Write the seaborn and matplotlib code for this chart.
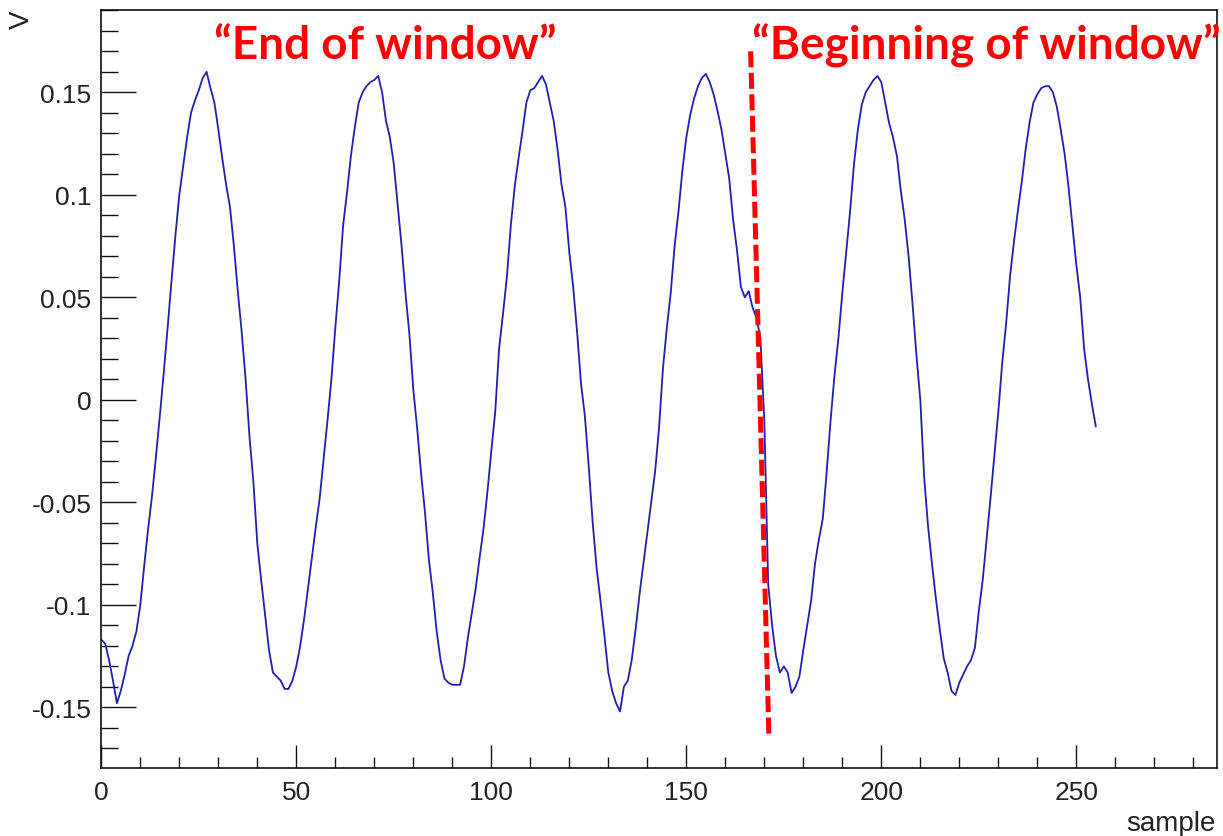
import numpy as np
import pandas as pd
import matplotlib
matplotlib.use("Agg")
import matplotlib.pyplot as plt
from matplotlib.ticker import MultipleLocator, FixedLocator, FixedFormatter
import seaborn as sns

# ---- data ----
voltage = [
    -0.117, -0.119, -0.127, -0.137, -0.148, -0.142, -0.134, -0.125, -0.120, -0.113,
    -0.100, -0.081, -0.063, -0.047, -0.028, -0.008, 0.013, 0.035, 0.058, 0.080,
    0.100, 0.114, 0.128, 0.140, 0.146, 0.151, 0.157, 0.160, 0.152, 0.145,
    0.132, 0.118, 0.105, 0.094, 0.075, 0.053, 0.033, 0.010, -0.018, -0.040,
    -0.070, -0.088, -0.105, -0.122, -0.133, -0.135, -0.137, -0.141, -0.141, -0.137,
    -0.130, -0.120, -0.107, -0.092, -0.077, -0.062, -0.048, -0.029, -0.010, 0.010,
    0.035, 0.058, 0.085, 0.101, 0.119, 0.133, 0.145, 0.150, 0.153, 0.155,
    0.156, 0.158, 0.150, 0.136, 0.128, 0.115, 0.095, 0.075, 0.052, 0.032,
    0.005, -0.014, -0.036, -0.055, -0.078, -0.094, -0.113, -0.127, -0.136, -0.138,
    -0.139, -0.139, -0.139, -0.130, -0.116, -0.104, -0.092, -0.077, -0.063, -0.045,
    -0.025, -0.006, 0.025, 0.042, 0.060, 0.085, 0.104, 0.118, 0.131, 0.145,
    0.151, 0.152, 0.155, 0.158, 0.154, 0.145, 0.136, 0.122, 0.105, 0.094,
    0.072, 0.055, 0.033, 0.008, -0.008, -0.033, -0.060, -0.082, -0.098, -0.115,
    -0.133, -0.142, -0.148, -0.152, -0.140, -0.137, -0.127, -0.112, -0.095, -0.080,
    -0.065, -0.050, -0.035, -0.014, 0.015, 0.035, 0.052, 0.075, 0.092, 0.112,
    0.128, 0.139, 0.147, 0.153, 0.157, 0.159, 0.155, 0.149, 0.141, 0.132,
    0.120, 0.108, 0.088, 0.073, 0.055, 0.050, 0.053, 0.045, 0.040, 0.030,
    -0.010, -0.090, -0.110, -0.125, -0.133, -0.130, -0.133, -0.143, -0.140, -0.135,
    -0.122, -0.110, -0.098, -0.080, -0.068, -0.058, -0.035, -0.010, 0.012, 0.030,
    0.052, 0.072, 0.092, 0.115, 0.132, 0.144, 0.150, 0.153, 0.156, 0.158,
    0.155, 0.145, 0.135, 0.128, 0.119, 0.102, 0.088, 0.070, 0.047, 0.022,
    0.000, -0.038, -0.062, -0.080, -0.097, -0.112, -0.126, -0.133, -0.142, -0.144,
    -0.138, -0.134, -0.130, -0.127, -0.121, -0.103, -0.088, -0.068, -0.048, -0.027,
    -0.006, 0.018, 0.037, 0.060, 0.077, 0.092, 0.106, 0.122, 0.135, 0.145,
    0.149, 0.152, 0.153, 0.153, 0.150, 0.143, 0.132, 0.120, 0.104, 0.085,
    0.066, 0.050, 0.025, 0.010, -0.002, -0.013,
]
sample = list(range(len(voltage)))

x_ticks = [0, 50, 100, 150, 200, 250]
x_tick_labels = ["0", "50", "100", "150", "200", "250"]
y_ticks = [-0.15, -0.1, -0.05, 0, 0.05, 0.1, 0.15]
y_tick_labels = ["-0.15", "-0.1", "-0.05", "0", "0.05", "0.1", "0.15"]

# window boundary marker (endpoints)
boundary_x = [166.5, 171.2]
boundary_y = [0.170, -0.1655]

end_label = "\u201cEnd of window\u201d"
begin_label = "\u201cBeginning of window\u201d"
x_label = "sample"
y_label = "V"

df = pd.DataFrame({"sample": sample, "V": voltage})

sns.set_style("white")
plt.rcParams["font.family"] = ["Liberation Sans", "DejaVu Sans"]

fig = plt.figure(figsize=(12.23, 8.37), dpi=100)
ax = fig.add_axes([101.3 / 1223, 1 - 769 / 837, (1216.7 - 101.3) / 1223, (769 - 10.7) / 837])

sns.lineplot(data=df, x="sample", y="V", ax=ax, color="#2020aa", linewidth=1.3,
             estimator=None, sort=False)

ax.plot(boundary_x, boundary_y, color="#ff0000", linewidth=3.6, dashes=(3.2, 1.1),
        solid_capstyle="butt", dash_capstyle="butt", zorder=5)

ax.set_xlim(0, 286)
ax.set_ylim(-0.1796, 0.1903)

ax.xaxis.set_major_locator(FixedLocator(x_ticks))
ax.xaxis.set_major_formatter(FixedFormatter(x_tick_labels))
ax.xaxis.set_minor_locator(MultipleLocator(10))
ax.yaxis.set_major_locator(FixedLocator(y_ticks))
ax.yaxis.set_major_formatter(FixedFormatter(y_tick_labels))
ax.yaxis.set_minor_locator(MultipleLocator(0.01))

ax.tick_params(axis="x", which="major", direction="in", length=16.5, width=1.0,
               labelsize=19, pad=9, colors="#111111", labelcolor="#222222",
               bottom=True, top=False)
ax.tick_params(axis="x", which="minor", direction="in", length=8, width=1.0,
               bottom=True, top=False, colors="#111111")
ax.tick_params(axis="y", which="major", direction="in", length=25, width=1.0,
               labelsize=19, pad=7, colors="#111111", labelcolor="#222222",
               left=True, right=False)
ax.tick_params(axis="y", which="minor", direction="in", length=12.5, width=1.0,
               left=True, right=False, colors="#111111")

for s in ax.spines.values():
    s.set_visible(True)
    s.set_color("#111111")
    s.set_linewidth(1.2)

ax.set_xlabel("")
ax.set_ylabel("")
ax.grid(False)

fig.text(22 / 1223, 1 - 20 / 837, y_label, rotation=90, ha="center", va="center",
         fontsize=20, color="#222222")
fig.text(1216 / 1223, 1 - 824 / 837, x_label, ha="right", va="center",
         fontsize=20, color="#222222")

fig.text(385 / 1223, 1 - 46 / 837, end_label, ha="center", va="center",
         fontsize=33, fontweight="bold", color="#ff0000", family=["Lato", "DejaVu Sans"])
fig.text(986 / 1223, 1 - 46 / 837, begin_label, ha="center", va="center",
         fontsize=33, fontweight="bold", color="#ff0000", family=["Lato", "DejaVu Sans"])

fig.savefig("out.png", dpi=100)
